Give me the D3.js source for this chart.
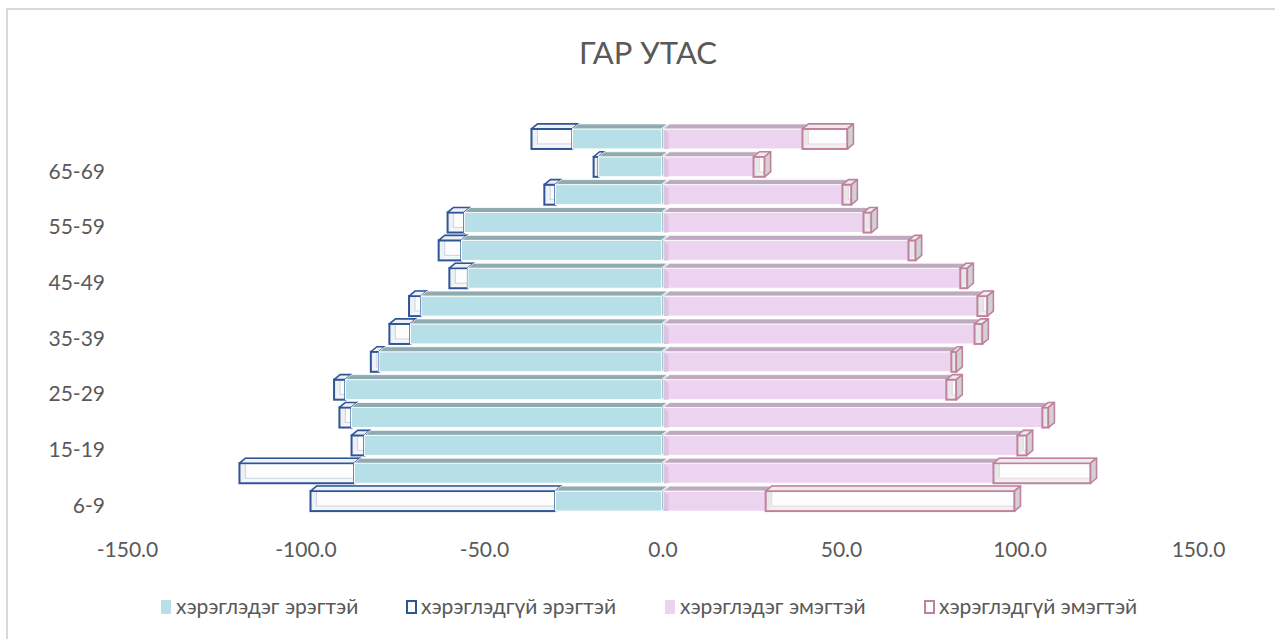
<!DOCTYPE html>
<html>
<head>
<meta charset="utf-8">
<script src="https://cdn.jsdelivr.net/npm/d3@7"></script>
<style>
  body { margin: 0; background: #fff; }
  svg text { font-family: Lato, "Open Sans", sans-serif; fill: #595959; }
</style>
</head>
<body>
<script>
// age groups, bottom to top
var categories = ["6-9", "10-14", "15-19", "20-24", "25-29", "30-34", "35-39",
                  "40-44", "45-49", "50-54", "55-59", "60-64", "65-69", "70+"];
var maleUsed      = [30.0, 86.3, 83.5, 87.1, 88.8, 79.4, 70.6, 67.6, 54.5, 56.3, 55.5, 30.0, 17.9, 25.2];
var maleNotUsed   = [68.6, 32.2, 3.6, 3.4, 3.2, 2.3, 5.9, 3.4, 5.2, 6.4, 4.7, 3.1, 1.4, 11.5];
var femaleUsed    = [28.9, 92.7, 99.4, 106.4, 79.5, 80.9, 87.4, 88.2, 83.4, 68.9, 56.3, 50.4, 25.5, 39.2];
var femaleNotUsed = [69.7, 27.2, 2.6, 1.7, 2.8, 1.4, 2.2, 2.8, 2.0, 2.0, 2.2, 2.5, 3.1, 12.6];
var xTicks = [-150, -100, -50, 0, 50, 100, 150];
var seriesNames = ["хэрэглэдэг эрэгтэй", "хэрэглэдгүй эрэгтэй", "хэрэглэдэг эмэгтэй", "хэрэглэдгүй эмэгтэй"];

var W = 1275, H = 639;
var dx = 6, dy = 5;

var svg = d3.select("body").append("svg")
  .attr("width", W)
  .attr("height", H);

// chart border
svg.append("rect")
  .attr("x", 7).attr("y", 9)
  .attr("width", W).attr("height", H)
  .attr("fill", "none")
  .attr("stroke", "#d9d9d9")
  .attr("stroke-width", 2);

svg.append("text")
  .attr("x", 648).attr("y", 64)
  .attr("text-anchor", "middle")
  .style("font-size", "31px")
  .text("ГАР УТАС");

var x = d3.scaleLinear().domain([-150, 150]).range([127, 1198]);
var y = d3.scaleBand().domain(categories.slice().reverse()).range([125, 515]).paddingInner(0.28).paddingOuter(0.14);
var bh = y.bandwidth();

// x axis labels (no axis line in the original)
var xAxis = d3.axisBottom(x).tickValues(xTicks)
  .tickFormat(function(d) { return d.toFixed(1); })
  .tickSize(0).tickPadding(0);
var ax = svg.append("g").attr("transform", "translate(0,540)").call(xAxis);
ax.select(".domain").remove();
ax.selectAll("text").style("font-size", "21px").attr("dy", "0.8em").attr("fill", null);

// category labels, every other one
var yAxis = d3.axisLeft(y).tickSize(0).tickPadding(0)
  .tickFormat(function(d) { return categories.indexOf(d) % 2 == 0 ? d : ""; });
var ay = svg.append("g").attr("transform", "translate(105,5)").call(yAxis);
ay.select(".domain").remove();
ay.selectAll("text").style("font-size", "21px").attr("fill", null);

function solidBox(g, x1, x2, yt, c) {
  g.append("rect")
    .attr("x", x1).attr("y", yt).attr("width", x2 - x1).attr("height", bh)
    .attr("fill", c.front).attr("stroke", "#fff").attr("stroke-width", 1);
  g.append("polygon")
    .attr("points", [[x1, yt], [x1 + dx, yt - dy], [x2 + dx, yt - dy], [x2, yt]].join(" "))
    .attr("fill", c.top).attr("stroke", "#fff").attr("stroke-width", 0.8);
  g.append("polygon")
    .attr("points", [[x2, yt], [x2 + dx, yt - dy], [x2 + dx, yt + bh - dy], [x2, yt + bh]].join(" "))
    .attr("fill", c.side).attr("stroke", "#fff").attr("stroke-width", 0.8);
}

function wireBox(g, x1, x2, yt, c) {
  var bot = yt + bh;
  // back edges and inner faces seen through the front
  g.append("polygon")
    .attr("points", [[x1, yt], [x1 + dx, yt - dy], [x1 + dx, bot - dy], [x1, bot]].join(" "))
    .attr("fill", c.inner);
  g.append("polygon")
    .attr("points", [[x1, bot], [x1 + dx, bot - dy], [x2 + dx, bot - dy], [x2, bot]].join(" "))
    .attr("fill", c.inner).attr("opacity", 0.6);
  g.append("rect")
    .attr("x", x1 + dx).attr("y", yt - dy).attr("width", x2 - x1).attr("height", bh)
    .attr("fill", "none").attr("stroke", c.thin).attr("stroke-width", 1);
  g.append("rect")
    .attr("x", x1).attr("y", yt).attr("width", x2 - x1).attr("height", bh)
    .attr("fill", "#fcfcfc").attr("fill-opacity", 0.55)
    .attr("stroke", c.stroke).attr("stroke-width", 2);
  g.append("polygon")
    .attr("points", [[x1, yt], [x1 + dx, yt - dy], [x2 + dx, yt - dy], [x2, yt]].join(" "))
    .attr("fill", c.top).attr("stroke", c.stroke).attr("stroke-width", 1.6).attr("stroke-linejoin", "round");
  g.append("polygon")
    .attr("points", [[x2, yt], [x2 + dx, yt - dy], [x2 + dx, bot - dy], [x2, bot]].join(" "))
    .attr("fill", c.side).attr("stroke", c.stroke).attr("stroke-width", 1.6).attr("stroke-linejoin", "round");
}

var blue = { front: "#b7dfe7", top: "#8fabb0", side: "#a3c6cd" };
var pink = { front: "#ecd3ef", top: "#bea9bf", side: "#d6bcd9" };
var blueWire = { stroke: "#2f5597", thin: "#8ea4c8", inner: "#dfe5ee", top: "#eef1f6", side: "#dfe4ec" };
var pinkWire = { stroke: "#c0819f", thin: "#d4a9bd", inner: "#cfcfcf", top: "#ececec", side: "#d2d2d2" };

function drawBars() {
  var x0 = x(0);
  for (var k = categories.length - 1; k >= 0; --k) {
    var yt = y(categories[k]);
    var g = svg.append("g");

    // men to the left
    var mu = x(-maleUsed[k]), mt = x(-(maleUsed[k] + maleNotUsed[k]));
    wireBox(g, mt, mu, yt, blueWire);
    solidBox(g, mu, x0 - 1, yt, blue);

    // women to the right
    var fu = x(femaleUsed[k]), ft = x(femaleUsed[k] + femaleNotUsed[k]);
    solidBox(g, x0 + 1, fu, yt, pink);
    g.append("polygon")
      .attr("points", [[x0 + 1, yt], [x0 + 6, yt + 4], [x0 + 6, yt + bh], [x0 + 1, yt + bh]].join(" "))
      .attr("fill", "#dcc3df");
    wireBox(g, fu, ft, yt, pinkWire);
  }
}
drawBars();

// legend
var legendX = [161, 406, 665, 924];
var legend = svg.append("g");
seriesNames.forEach(function(name, i) {
  var lg = legend.append("g").attr("transform", "translate(" + legendX[i] + ",600)");
  if (i % 2 == 0) {
    lg.append("rect").attr("width", 10).attr("height", 14)
      .attr("fill", i == 0 ? blue.front : pink.front);
  } else {
    lg.append("rect").attr("x", 1).attr("y", 1).attr("width", 9).attr("height", 12)
      .attr("fill", "#fcfcfc")
      .attr("stroke", i == 1 ? blueWire.stroke : pinkWire.stroke).attr("stroke-width", 2);
  }
  lg.append("text")
    .attr("x", 15).attr("y", 7).attr("dy", "0.35em")
    .style("font-size", "21px")
    .text(name);
});
</script>
</body>
</html>
